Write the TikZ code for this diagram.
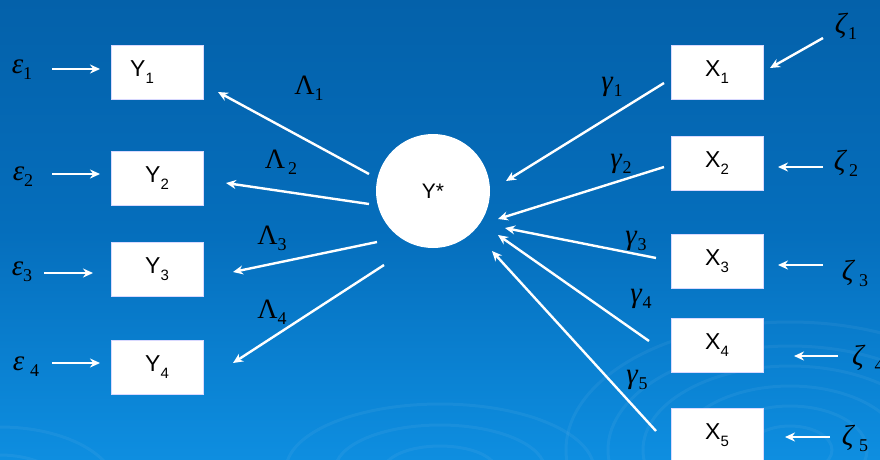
\documentclass[tikz,border=0pt]{standalone}
\usepackage{fontspec}
\setmainfont{Liberation Sans}
\newfontfamily\gkfont{Liberation Serif}
\usetikzlibrary{arrows.meta}
\definecolor{bgtop}{RGB}{4,97,170}
\definecolor{bgmid}{RGB}{5,110,188}
\definecolor{bgbot}{RGB}{14,142,224}
\newcommand\boxlab[2]{\fontsize{23}{23}\selectfont #1\raisebox{-7pt}{\fontsize{15}{15}\selectfont #2}}
\newcommand\gi[3][0pt]{{\gkfont\fontsize{29}{29}\selectfont\textit{#2}\hspace{#1}\raisebox{-6pt}{\fontsize{18}{18}\selectfont #3}}}
\newcommand\gu[3][0pt]{{\gkfont\fontsize{28}{28}\selectfont #2\hspace{#1}\raisebox{-6pt}{\fontsize{18}{18}\selectfont #3}}}
\tikzset{
  varbox/.style={draw=white!85!blue, fill=white, line width=0.6pt, minimum width=92pt, minimum height=54pt, inner sep=0pt},
  latent/.style={circle, fill=white, minimum size=114pt, inner sep=0pt},
  arr/.style={draw=white, line width=2.4pt, -{Stealth[length=10pt,width=9pt]}},
  glab/.style={inner sep=0pt, text=black},
  swirl/.style={draw=white, draw opacity=0.05, line width=3pt}
}
\begin{document}
\begin{tikzpicture}[x=1pt,y=-1pt]
\useasboundingbox (0,0) rectangle (880,459);
\clip (0,0) rectangle (880,459);
\shade[top color=bgtop, bottom color=bgbot, middle color=bgmid] (0,0) rectangle (880,459);
% faint swirls
\foreach \r in {30,55,80,105,130,160}{
  \draw[swirl] (790,450) ellipse ({1.4*\r} and {0.8*\r});
}
\foreach \r in {40,75,110}{
  \draw[swirl] (440,470) ellipse ({1.4*\r} and {0.6*\r});
}
\foreach \r in {50,90}{
  \draw[swirl] (0,490) ellipse ({1.3*\r} and {0.7*\r});
}

% boxes
\node[varbox] (y1) at (157,72) {\hspace*{-30pt}\boxlab{Y}{1}};
\node[varbox] (y2) at (157,178) {\boxlab{Y}{2}};
\node[varbox] (y3) at (157,269) {\boxlab{Y}{3}};
\node[varbox] (y4) at (157,367) {\boxlab{Y}{4}};
\node[varbox] (x1) at (717,72) {\boxlab{X}{1}};
\node[varbox] (x2) at (717,163) {\boxlab{X}{2}};
\node[varbox] (x3) at (717,261) {\boxlab{X}{3}};
\node[varbox] (x4) at (717,345) {\boxlab{X}{4}};
\node[varbox] (x5) at (717,435) {\boxlab{X}{5}};
\node[latent] (ys) at (433,191) {\fontsize{21}{21}\selectfont Y*};

% epsilon labels
\node[glab] (e1) at (22,70) {\gi{ε}{1}};
\node[glab] (e2) at (23,177) {\gi{ε}{2}};
\node[glab] (e3) at (22,272) {\gi{ε}{3}};
\node[glab] (e4) at (26,367) {\gi[6pt]{ε}{4}};
% epsilon arrows
\coordinate (e1s) at (52,69);  \coordinate (e1e) at (100,69);
\coordinate (e2s) at (52,174); \coordinate (e2e) at (100,174);
\coordinate (e3s) at (44,273); \coordinate (e3e) at (93,273);
\coordinate (e4s) at (52,363); \coordinate (e4e) at (100,363);
\draw[arr] (e1s) -- (e1e);
\draw[arr] (e2s) -- (e2e);
\draw[arr] (e3s) -- (e3e);
\draw[arr] (e4s) -- (e4e);

% lambda arrows
\coordinate (l1s) at (369,174); \coordinate (l1e) at (218,92);
\coordinate (l2s) at (369,204); \coordinate (l2e) at (226,183);
\coordinate (l3s) at (377,242); \coordinate (l3e) at (233,272);
\coordinate (l4s) at (384,265); \coordinate (l4e) at (233,363);
\draw[arr] (l1s) -- (l1e);
\draw[arr] (l2s) -- (l2e);
\draw[arr] (l3s) -- (l3e);
\draw[arr] (l4s) -- (l4e);
\node[glab] (L1) at (309,88) {\gu{Λ}{1}};
\node[glab] (L2) at (281,162) {\gu[3pt]{Λ}{2}};
\node[glab] (L3) at (272,238) {\gu{Λ}{3}};
\node[glab] (L4) at (272,312) {\gu{Λ}{4}};

% gamma arrows
\coordinate (g1s) at (664,83);  \coordinate (g1e) at (506,181);
\coordinate (g2s) at (664,167); \coordinate (g2e) at (498,219);
\coordinate (g3s) at (656,258); \coordinate (g3e) at (505,228);
\coordinate (g4s) at (649,341); \coordinate (g4e) at (498,235);
\coordinate (g5s) at (656,431); \coordinate (g5e) at (492,251);
\draw[arr] (g1s) -- (g1e);
\draw[arr] (g2s) -- (g2e);
\draw[arr] (g3s) -- (g3e);
\draw[arr] (g4s) -- (g4e);
\draw[arr] (g5s) -- (g5e);
\node[glab] (G1) at (612,87) {\gi{γ}{1}};
\node[glab] (G2) at (621,164) {\gi{γ}{2}};
\node[glab] (G3) at (636,241) {\gi{γ}{3}};
\node[glab] (G4) at (641,299) {\gi{γ}{4}};
\node[glab] (G5) at (637,380) {\gi{γ}{5}};

% zeta arrows
\coordinate (z1s) at (823,38);  \coordinate (z1e) at (770,68);
\coordinate (z2s) at (823,167); \coordinate (z2e) at (778,167);
\coordinate (z3s) at (823,265); \coordinate (z3e) at (778,265);
\coordinate (z4s) at (838,356); \coordinate (z4e) at (794,356);
\coordinate (z5s) at (830,437); \coordinate (z5e) at (785,437);
\draw[arr] (z1s) -- (z1e);
\draw[arr] (z2s) -- (z2e);
\draw[arr] (z3s) -- (z3e);
\draw[arr] (z4s) -- (z4e);
\draw[arr] (z5s) -- (z5e);
\node[glab] (Z1) at (846,26) {\gi{ζ}{1}};
\node[glab] (Z2) at (846,163) {\gi[2pt]{ζ}{2}};
\node[glab] (Z3) at (855,273) {\gi[4pt]{ζ}{3}};
\node[glab,anchor=west] (Z4) at (852,358) {\gi[9pt]{ζ}{4}};
\node[glab] (Z5) at (855,438) {\gi[4pt]{ζ}{5}};
\end{tikzpicture}
\end{document}
